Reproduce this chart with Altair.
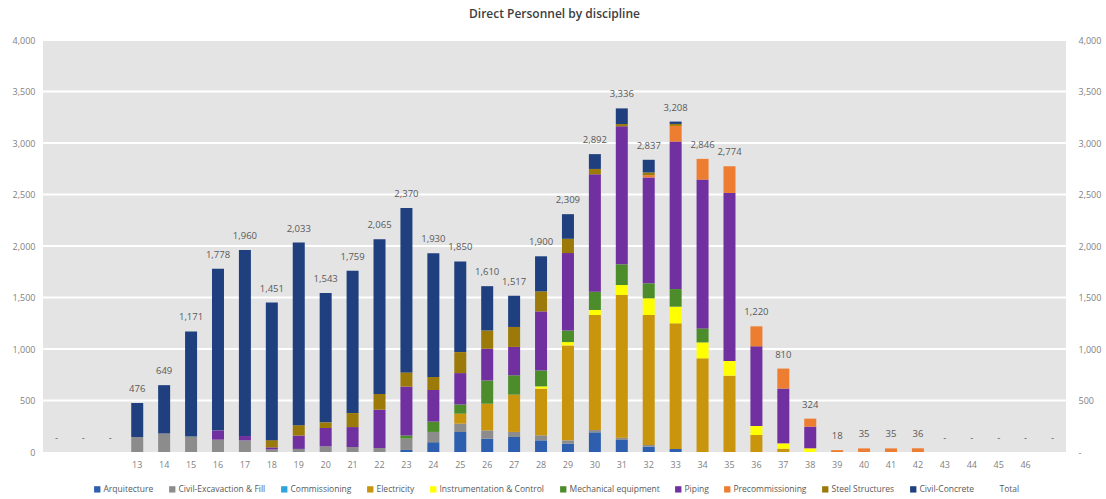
import altair as alt
import pandas as pd

# Week slots on the x axis: 10-12 and 47 are empty lead/trail periods with no label
weeks = list(range(10, 48))
labelled_weeks = list(range(13, 47))
gridline_values = [500, 1000, 1500, 2000, 2500, 3000, 3500, 4000]

disciplines = [
    "Arquitecture",
    "Civil-Excavaction & Fill",
    "Commissioning",
    "Electricity",
    "Instrumentation & Control",
    "Mechanical equipment",
    "Piping",
    "Precommissioning",
    "Steel Structures",
    "Civil-Concrete",
]
colors = [
    "#2D5FAE",
    "#8C8C8C",
    "#2FA3DC",
    "#C9950C",
    "#FFFF00",
    "#4C8C2B",
    "#7030A0",
    "#ED7D31",
    "#9C7A0A",
    "#1F3F7E",
]

# Headcount per discipline for weeks 13..46
arquitecture = [0, 0, 0, 0, 0, 0, 0, 0, 0, 0,
                20, 95, 194, 129, 146, 113, 81, 191, 117, 52,
                29, 0, 0, 0, 0, 0, 0, 0, 0, 0,
                0, 0, 0, 0]
civil_excavation = [145, 180, 150, 120, 113, 25, 30, 55, 48, 39,
                    110, 100, 81, 81, 49, 49, 32, 22, 22, 16,
                    0, 0, 0, 0, 0, 0, 0, 0, 0, 0,
                    0, 0, 0, 0]
commissioning = [0, 0, 0, 0, 0, 0, 0, 0, 0, 0,
                 0, 0, 0, 0, 0, 0, 0, 0, 0, 0,
                 0, 0, 0, 0, 0, 0, 0, 0, 0, 0,
                 0, 0, 0, 0]
electricity = [0, 0, 0, 0, 0, 0, 0, 0, 0, 0,
               0, 0, 97, 259, 362, 453, 922, 1117, 1385, 1262,
               1220, 909, 741, 165, 32, 0, 0, 0, 0, 0,
               0, 0, 0, 0]
instrumentation = [0, 0, 0, 0, 0, 0, 0, 0, 0, 0,
                   0, 0, 0, 0, 0, 22, 32, 49, 97, 162,
                   162, 155, 142, 87, 52, 36, 0, 0, 0, 0,
                   0, 0, 0, 0]
mechanical = [0, 0, 0, 0, 0, 0, 0, 0, 0, 0,
              30, 100, 90, 226, 188, 155, 113, 178, 201, 146,
              171, 136, 0, 0, 0, 0, 0, 0, 0, 0,
              0, 0, 0, 0]
piping = [0, 0, 0, 90, 42, 20, 130, 178, 194, 372,
          475, 307, 304, 307, 275, 573, 751, 1139, 1340, 1028,
          1432, 1445, 1632, 774, 532, 210, 0, 0, 0, 0,
          0, 0, 0, 0]
precommissioning = [0, 0, 0, 0, 0, 0, 0, 0, 0, 0,
                    0, 0, 0, 0, 0, 0, 0, 0, 0, 22,
                    152, 201, 259, 194, 194, 78, 18, 35, 35, 36,
                    0, 0, 0, 0]
steel_structures = [0, 0, 0, 0, 0, 70, 100, 55, 136, 152,
                    138, 126, 204, 178, 194, 194, 139, 52, 22, 26,
                    19, 0, 0, 0, 0, 0, 0, 0, 0, 0,
                    0, 0, 0, 0]
civil_concrete = [331, 469, 1021, 1568, 1805, 1336, 1773, 1255, 1381, 1502,
                  1597, 1202, 880, 430, 303, 341, 239, 144, 152, 123,
                  23, 0, 0, 0, 0, 0, 0, 0, 0, 0,
                  0, 0, 0, 0]

series = [arquitecture, civil_excavation, commissioning, electricity, instrumentation,
          mechanical, piping, precommissioning, steel_structures, civil_concrete]

rows = []
for idx, (name, values) in enumerate(zip(disciplines, series)):
    for wk, v in zip(labelled_weeks, values):
        if v > 0:
            rows.append({"week": wk, "discipline": name, "order": idx, "people": v})
bars_df = pd.DataFrame(rows)

totals = {wk: 0 for wk in weeks}
for values in series:
    for wk, v in zip(labelled_weeks, values):
        totals[wk] += v
totals_df = pd.DataFrame({"week": list(totals.keys()), "total": list(totals.values())})
totals_df["label"] = [("-" if t == 0 else f"{t:,}") for t in totals_df["total"]]

grid_df = pd.DataFrame({"level": gridline_values})

x_scale = alt.Scale(domain=weeks, paddingInner=0, paddingOuter=0)
y_scale = alt.Scale(domain=[0, 4000], nice=False)
tick_values = [0] + gridline_values

grid = alt.Chart(grid_df).mark_rule(color="#FFFFFF", strokeWidth=1.8).encode(
    y=alt.Y("level:Q", scale=y_scale, axis=None),
)

bars = alt.Chart(bars_df).mark_bar(size=12).encode(
    x=alt.X(
        "week:O",
        scale=x_scale,
        axis=alt.Axis(
            title=None, labelAngle=0, ticks=False, domain=False,
            labelExpr="datum.value < 13 || datum.value > 46 ? '' : datum.value",
            labelFontSize=9, labelColor="#7F7F7F", labelPadding=8, labelFont="Open Sans",
        ),
    ),
    y=alt.Y(
        "people:Q", stack="zero", scale=y_scale,
        axis=alt.Axis(
            title=None, orient="left", values=tick_values,
            labelExpr="format(datum.value, ',')",
            ticks=False, domain=False, grid=False,
            labelFontSize=9, labelColor="#7F7F7F", labelPadding=8, labelFont="Open Sans",
        ),
    ),
    color=alt.Color(
        "discipline:N",
        scale=alt.Scale(domain=disciplines + ["Total"], range=colors + ["transparent"]),
        legend=alt.Legend(
            title=None, orient="none", legendX=50, legendY=445, direction="horizontal",
            columns=11, symbolType="square", symbolSize=40, symbolStrokeWidth=0,
            labelFontSize=8.5, labelColor="#595959", labelFont="Open Sans",
            columnPadding=14, labelOffset=2, labelLimit=300,
        ),
    ),
    order=alt.Order("order:Q", sort="ascending"),
)

labels = alt.Chart(totals_df).mark_text(
    dy=-14, baseline="middle", fontSize=9.5, color="#595959", font="Open Sans"
).encode(
    x=alt.X("week:O", scale=x_scale),
    y=alt.Y(
        "total:Q", scale=y_scale,
        axis=alt.Axis(
            title=None, orient="right", values=tick_values,
            labelExpr="datum.value == 0 ? '-' : format(datum.value, ',')",
            ticks=False, domain=False, grid=False,
            labelFontSize=9, labelColor="#7F7F7F", labelPadding=12, labelFont="Open Sans",
        ),
    ),
    text="label:N",
)

chart = alt.layer(grid, bars, labels).resolve_axis(y="independent").properties(
    width=1023,
    height=412,
    title=alt.Title(
        "Direct Personnel by discipline", fontSize=12, fontWeight=600,
        color="#404040", font="Open Sans", anchor="middle", offset=15,
    ),
    background="#FFFFFF",
    autosize=alt.AutoSizeParams(type="none"),
    padding={"left": 43, "top": 40, "right": 40, "bottom": 47},
).configure_view(stroke=None, fill="#E4E4E4")

chart.save("out.html", embed_options={"renderer": "svg", "actions": False})
